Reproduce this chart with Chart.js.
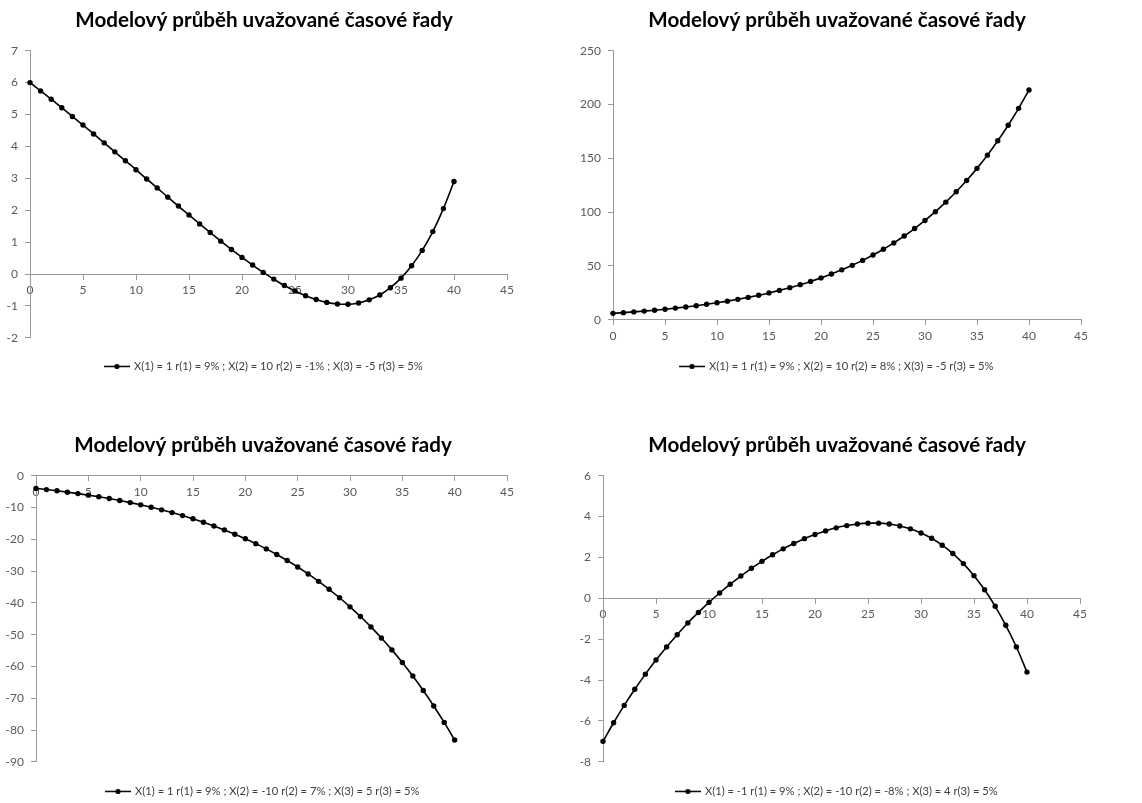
<!DOCTYPE html>
<html lang="cs">
<head>
<meta charset="utf-8">
<title>Modelový průběh uvažované časové řady</title>
<script src="https://cdn.jsdelivr.net/npm/chart.js@4.4.1/dist/chart.umd.min.js"></script>
<style>
  html, body { margin: 0; padding: 0; background: #fff; overflow: hidden; }
  body { width: 1142px; height: 803px; position: relative; }
  canvas { position: absolute; }
</style>
</head>
<body>
<canvas id="c1"></canvas>
<canvas id="c2"></canvas>
<canvas id="c3"></canvas>
<canvas id="c4"></canvas>
<script>
/* ---------------------------
   Data
   --------------------------- */

const chartTitle = 'Modelový průběh uvažované časové řady';

// time index
const tValues = [0, 1, 2, 3, 4, 5, 6, 7, 8, 9, 10, 11, 12, 13, 14, 15, 16, 17, 18, 19, 20,
  21, 22, 23, 24, 25, 26, 27, 28, 29, 30, 31, 32, 33, 34, 35, 36, 37, 38, 39, 40];

const series1Label = 'X(1) = 1 r(1) = 9% ; X(2) = 10 r(2) = -1% ; X(3) = -5 r(3) = 5%';
const series1 = [6.00, 5.74, 5.48, 5.21, 4.94, 4.67, 4.39, 4.11, 3.83, 3.55, 3.27, 2.98, 2.70, 2.41,
  2.13, 1.85, 1.57, 1.30, 1.03, 0.77, 0.52, 0.28, 0.05, -0.16, -0.36, -0.53, -0.68, -0.80, -0.89,
  -0.94, -0.95, -0.91, -0.81, -0.66, -0.43, -0.13, 0.26, 0.74, 1.33, 2.05, 2.90];

const series2Label = 'X(1) = 1 r(1) = 9% ; X(2) = 10 r(2) = 8% ; X(3) = -5 r(3) = 5%';
const series2 = [6.00, 6.64, 7.34, 8.10, 8.94, 9.85, 10.85, 11.93, 13.11, 14.41, 15.81, 17.35, 19.02,
  20.83, 22.81, 24.97, 27.32, 29.87, 32.64, 35.66, 38.95, 42.52, 46.40, 50.61, 55.20, 60.18, 65.58,
  71.46, 77.84, 84.76, 92.28, 100.45, 109.31, 118.93, 129.36, 140.69, 152.97, 166.30, 180.76,
  196.45, 213.45];

const series3Label = 'X(1) = 1 r(1) = 9% ; X(2) = -10 r(2) = 7% ; X(3) = 5 r(3) = 5%';
const series3 = [-4.00, -4.36, -4.75, -5.17, -5.62, -6.11, -6.63, -7.19, -7.80, -8.46, -9.16, -9.92,
  -10.73, -11.60, -12.54, -13.55, -14.64, -15.80, -17.05, -18.39, -19.83, -21.37, -23.02, -24.79,
  -26.69, -28.72, -30.90, -33.23, -35.72, -38.39, -41.25, -44.30, -47.56, -51.06, -54.79, -58.77,
  -63.03, -67.58, -72.43, -77.61, -83.14];

const series4Label = 'X(1) = -1 r(1) = 9% ; X(2) = -10 r(2) = -8% ; X(3) = 4 r(3) = 5%';
const series4 = [-7.00, -6.09, -5.24, -4.45, -3.71, -3.02, -2.38, -1.78, -1.21, -0.69, -0.20, 0.26,
  0.69, 1.09, 1.47, 1.81, 2.13, 2.42, 2.68, 2.92, 3.12, 3.30, 3.45, 3.56, 3.64, 3.68, 3.68, 3.64,
  3.54, 3.40, 3.20, 2.94, 2.60, 2.19, 1.70, 1.11, 0.42, -0.39, -1.32, -2.38, -3.61];

// axis ticks
const xTicks = [0, 5, 10, 15, 20, 25, 30, 35, 40, 45];
const y1Ticks = [-2, -1, 0, 1, 2, 3, 4, 5, 6, 7];
const y2Ticks = [0, 50, 100, 150, 200, 250];
const y3Ticks = [-90, -80, -70, -60, -50, -40, -30, -20, -10, 0];
const y4Ticks = [-8, -6, -4, -2, 0, 2, 4, 6];

/* ---------------------------
   Layout / style
   --------------------------- */

const FONT = 'Lato, "Open Sans", "DejaVu Sans", sans-serif';
const AXIS_COLOR = '#9a9a9a';
const TICK_COLOR = '#595959';

// yWidth = left axis box, rightWidth = empty spacer so the title stays centred like Excel
const panels = [
  { id: 'c1', series: series1, label: series1Label, yTicks: y1Ticks,
    left: 0, top: 0, width: 571, height: 390,
    pad: { left: 0, right: 43, top: 0, bottom: 8 }, yWidth: 30, rightWidth: 21,
    titlePad: { top: 8, bottom: 18 }, legendPad: 23 },
  { id: 'c2', series: series2, label: series2Label, yTicks: y2Ticks,
    left: 571, top: 0, width: 571, height: 390,
    pad: { left: 0, right: 39, top: 0, bottom: 8 }, yWidth: 42, rightWidth: 22,
    titlePad: { top: 8, bottom: 18 }, legendPad: 41 },
  { id: 'c3', series: series3, label: series3Label, yTicks: y3Ticks,
    left: 0, top: 400, width: 571, height: 407,
    pad: { left: 0, right: 45, top: 0, bottom: 0 }, yWidth: 36, rightWidth: 19,
    titlePad: { top: 33, bottom: 18 }, legendPad: 24 },
  { id: 'c4', series: series4, label: series4Label, yTicks: y4Ticks,
    left: 571, top: 400, width: 571, height: 407,
    pad: { left: 0, right: 39, top: 0, bottom: 0 }, yWidth: 32, rightWidth: 23,
    titlePad: { top: 33, bottom: 18 }, legendPad: 24 }
];

// legend marker: short line with a dot (Excel style)
function legendMarker() {
  const c = document.createElement('canvas');
  c.width = 26; c.height = 7;
  const g = c.getContext('2d');
  g.strokeStyle = '#000';
  g.lineWidth = 1.5;
  g.beginPath(); g.moveTo(0, 3.5); g.lineTo(26, 3.5); g.stroke();
  g.fillStyle = '#000';
  g.beginPath(); g.arc(13, 3.5, 2.6, 0, Math.PI * 2); g.fill();
  return c;
}
const marker = legendMarker();

function buildChart(p) {
  const canvas = document.getElementById(p.id);
  canvas.width = p.width;
  canvas.height = p.height;
  canvas.style.left = p.left + 'px';
  canvas.style.top = p.top + 'px';

  const yt = p.yTicks;
  const points = tValues.map((t, i) => ({ x: t, y: p.series[i] }));

  return new Chart(canvas.getContext('2d'), {
    type: 'line',
    data: {
      datasets: [{
        label: p.label,
        data: points,
        yAxisID: 'y',
        borderColor: '#000',
        borderWidth: 1.6,
        backgroundColor: '#000',
        pointRadius: 2.7,
        pointBorderWidth: 0,
        pointBackgroundColor: '#000',
        cubicInterpolationMode: 'monotone',
        fill: false,
        clip: false
      }]
    },
    options: {
      responsive: false,
      animation: false,
      layout: { padding: p.pad },
      plugins: {
        title: {
          display: true,
          text: chartTitle,
          color: '#000',
          font: { family: FONT, size: 20.6, weight: 'bold', lineHeight: 1.2 },
          padding: p.titlePad
        },
        legend: {
          display: true,
          position: 'bottom',
          labels: {
            usePointStyle: true,
            pointStyleWidth: 23,
            padding: p.legendPad,
            color: '#404040',
            font: { family: FONT, size: 11.2 },
            generateLabels: chart => chart.data.datasets.map((ds, i) => ({
              text: ds.label,
              pointStyle: marker,
              datasetIndex: i,
              hidden: false,
              lineWidth: 0,
              fillStyle: '#000',
              strokeStyle: '#000',
              fontColor: '#404040'
            }))
          }
        },
        tooltip: { enabled: false }
      },
      scales: {
        x: {
          type: 'linear',
          position: { y: 0 },
          min: xTicks[0],
          max: xTicks[xTicks.length - 1],
          ticks: {
            stepSize: xTicks[1] - xTicks[0],
            color: TICK_COLOR,
            font: { family: FONT, size: 12 },
            padding: 4,
            maxRotation: 0
          },
          grid: { display: true, drawOnChartArea: false, drawTicks: true, tickLength: 5, color: AXIS_COLOR },
          border: { display: true, color: AXIS_COLOR, width: 1 }
        },
        y: {
          type: 'linear',
          position: 'left',
          min: yt[0],
          max: yt[yt.length - 1],
          afterFit: s => { s.width = p.yWidth; },
          ticks: {
            stepSize: yt[1] - yt[0],
            color: TICK_COLOR,
            font: { family: FONT, size: 12 },
            padding: 7
          },
          grid: { display: true, drawOnChartArea: false, drawTicks: true, tickLength: 5, color: AXIS_COLOR },
          border: { display: true, color: AXIS_COLOR, width: 1 }
        },
        // empty spacer on the right, keeps the plot area where Excel put it
        spacer: {
          type: 'linear',
          position: 'right',
          display: true,
          ticks: { display: false },
          grid: { display: false },
          border: { display: false },
          afterFit: s => { s.width = p.rightWidth; }
        }
      }
    }
  });
}

const charts = panels.map(buildChart);
</script>
</body>
</html>
